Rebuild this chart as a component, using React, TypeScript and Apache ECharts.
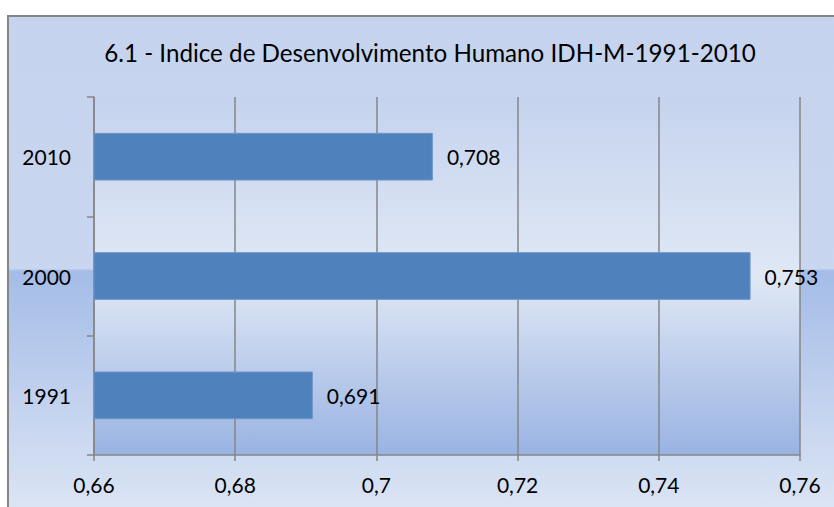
import React, { useEffect, useRef } from "react";
import * as echarts from "echarts";

const categories = ["1991", "2000", "2010"];
const values = [0.691, 0.753, 0.708];
const titleText = "6.1 - Indice de Desenvolvimento Humano IDH-M-1991-2010";
const xMin = 0.66;
const xMax = 0.76;
const xStep = 0.02;

const FONT = "Lato";

export default function App() {
  const ref = useRef<HTMLDivElement>(null);
  useEffect(() => {
    if (!ref.current) return;
    const chart = echarts.init(ref.current, undefined, { renderer: "svg" });
    const fmt = (v: number) => String(Number(v.toFixed(3))).replace(".", ",");
    chart.setOption({
      animation: false,
      backgroundColor: "#ffffff",
      textStyle: { fontFamily: FONT },
      graphic: [
        {
          type: "rect",
          z: -10,
          silent: true,
          shape: { x: 8, y: 16, width: 850, height: 510 },
          style: {
            fill: new echarts.graphic.LinearGradient(0, 0, 0, 1, [
              { offset: 0, color: "#c5d3ee" },
              { offset: 0.495, color: "#c9d6ef" },
              { offset: 0.5, color: "#a4bce7" },
              { offset: 1, color: "#dfe7f5" },
            ]),
            stroke: "#868686",
            lineWidth: 2,
          },
        },
      ],
      title: {
        text: titleText,
        left: 425,
        textAlign: "center",
        top: 35,
        textStyle: { fontFamily: FONT, fontSize: 24.2, fontWeight: "normal", color: "#000" },
      },
      grid: {
        left: 94,
        right: 34,
        top: 97,
        bottom: 52,
        show: true,
        borderWidth: 0,
        backgroundColor: new echarts.graphic.LinearGradient(0, 0, 0, 1, [
          { offset: 0, color: "#c5d3ee" },
          { offset: 0.5, color: "#e0e8f5" },
          { offset: 1, color: "#99b3e2" },
        ]),
      },
      xAxis: {
        type: "value",
        min: xMin,
        max: xMax,
        interval: xStep,
        axisLine: { show: true, lineStyle: { color: "#868686", width: 1.5 } },
        axisTick: { show: true, length: 6, lineStyle: { color: "#868686", width: 1.5 } },
        splitLine: { show: true, lineStyle: { color: "#868686", width: 1.5 } },
        axisLabel: {
          margin: 19,
          fontFamily: FONT,
          fontSize: 21,
          color: "#000",
          formatter: (v: number) => fmt(v),
        },
      },
      yAxis: {
        type: "category",
        data: categories,
        axisLine: { show: true, lineStyle: { color: "#868686", width: 1.5 } },
        axisTick: { show: true, length: 7, lineStyle: { color: "#868686", width: 1.5 } },
        splitLine: { show: false },
        axisLabel: { margin: 23, fontFamily: FONT, fontSize: 21, color: "#000" },
      },
      series: [
        {
          type: "bar",
          data: values,
          barCategoryGap: "60%",
          itemStyle: { color: "#4f81bd", borderColor: "#6f97c8", borderWidth: 1 },
          label: {
            show: true,
            position: "right",
            distance: 14,
            fontFamily: FONT,
            fontSize: 21,
            color: "#000",
            formatter: (p: any) => fmt(p.value),
          },
        },
      ],
    });
    return () => chart.dispose();
  }, []);
  return (
    <div
      ref={ref}
      style={{ position: "absolute", left: 0, top: 0, width: 834, height: 507 }}
    />
  );
}
